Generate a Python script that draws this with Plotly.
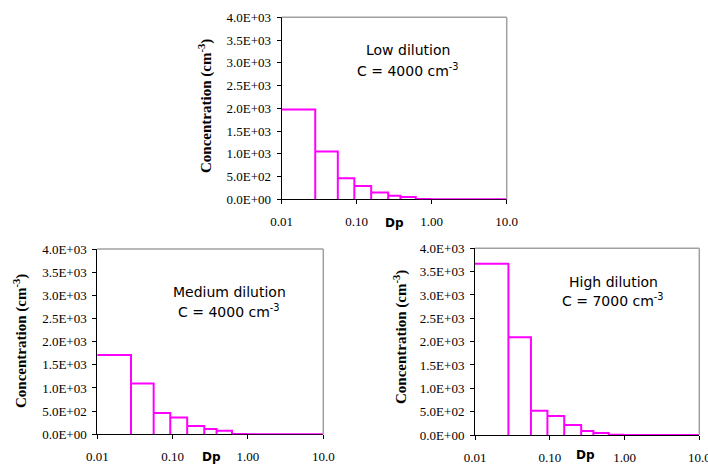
import plotly.graph_objects as go

W, H = 708, 464

# ELPI-like bin edges (um)
edges = [0.007, 0.028, 0.056, 0.093, 0.156, 0.263, 0.383, 0.614, 0.954, 1.61, 2.48, 3.97, 6.58, 10.0]

low_vals = [1975, 1048, 462, 293, 147, 80, 51, 4, 2, 1, 1, 1, 1]
medium_vals = [1712, 1094, 460, 360, 180, 115, 79, 4, 2, 1, 1, 1, 1]
high_vals = [3671, 2093, 521, 407, 214, 86, 43, 4, 2, 1, 1, 1, 1]

y_tickvals = [0, 500, 1000, 1500, 2000, 2500, 3000, 3500, 4000]
y_ticktext = ["0.0E+00", "5.0E+02", "1.0E+03", "1.5E+03", "2.0E+03",
              "2.5E+03", "3.0E+03", "3.5E+03", "4.0E+03"]
x_tickvals = [0.01, 0.1, 1, 10]
x_ticktext = ["0.01", "0.10", "1.00", "10.0"]

panels = [
    dict(vals=low_vals, name="Low dilution", conc="4000",
         px=(281.7, 506.7), py=(17.3, 199.3),
         title_xy=(205, 106), dp_xy=(394, 223), txt_xy=(408, 50, 70)),
    dict(vals=medium_vals, name="Medium dilution", conc="4000",
         px=(97.3, 323.3), py=(249, 434.3),
         title_xy=(20, 341), dp_xy=(211, 457), txt_xy=(229, 292, 311)),
    dict(vals=high_vals, name="High dilution", conc="7000",
         px=(475, 699.3), py=(248.3, 435),
         title_xy=(400, 337), dp_xy=(585, 455), txt_xy=(613, 282, 300)),
]

fig = go.Figure()
annotations = []
shapes = []
tick_font = dict(family="Liberation Serif", size=13, color="black")

for i, p in enumerate(panels):
    n = "" if i == 0 else str(i + 1)
    xs, ys = [], []
    for k, v in enumerate(p["vals"]):
        x0, x1 = edges[k], edges[k + 1]
        xs += [x0, x0, x1, x1]
        ys += [0, v, v, 0]
    fig.add_trace(go.Scatter(x=xs, y=ys, mode="lines",
                             line=dict(color="#FF00FF", width=2),
                             xaxis="x" + n, yaxis="y" + n,
                             showlegend=False, hoverinfo="skip"))
    xd = [p["px"][0] / W, p["px"][1] / W]
    yd = [1 - p["py"][1] / H, 1 - p["py"][0] / H]
    fig.layout["xaxis" + n] = dict(
        domain=xd, anchor="y" + n, type="log", range=[-2, 1],
        tickvals=x_tickvals, ticktext=x_ticktext, tickfont=tick_font,
        showgrid=False, zeroline=False, showline=True, linecolor="black",
        linewidth=1, ticks="outside", ticklen=4, tickcolor="black",
        ticklabelstandoff=6, layer="below traces", automargin=False,
        ticklabeloverflow="allow")
    fig.layout["yaxis" + n] = dict(
        domain=yd, anchor="x" + n, range=[0, 4000],
        tickvals=y_tickvals, ticktext=y_ticktext, tickfont=tick_font,
        showgrid=False, zeroline=False, showline=True, linecolor="black",
        linewidth=1, ticks="outside", ticklen=4, tickcolor="black",
        ticklabelstandoff=3, layer="below traces", automargin=False)
    # gray top & right border
    shapes.append(dict(type="line", xref="x" + n + " domain", yref="y" + n + " domain",
                       x0=0, x1=1, y0=1, y1=1, line=dict(color="#A0A0A0", width=1.5)))
    shapes.append(dict(type="line", xref="x" + n + " domain", yref="y" + n + " domain",
                       x0=1, x1=1, y0=0, y1=1, line=dict(color="#A0A0A0", width=1.5)))
    tx, ty = p["title_xy"]
    annotations.append(dict(text="<b>Concentration (cm<sup>-3</sup>)</b>", textangle=-90,
                            x=tx / W, y=1 - ty / H, xref="paper", yref="paper",
                            showarrow=False, xanchor="center", yanchor="middle",
                            font=dict(family="Liberation Serif", size=15, color="black")))
    dx, dy = p["dp_xy"]
    annotations.append(dict(text="<b>Dp</b>", x=dx / W, y=1 - dy / H,
                            xref="paper", yref="paper", showarrow=False,
                            xanchor="center", yanchor="middle",
                            font=dict(family="DejaVu Sans", size=12, color="black")))
    cx, l1, l2 = p["txt_xy"]
    annotations.append(dict(text=p["name"], x=cx / W, y=1 - l1 / H,
                            xref="paper", yref="paper", showarrow=False,
                            xanchor="center", yanchor="middle",
                            font=dict(family="DejaVu Sans", size=14, color="black")))
    annotations.append(dict(text="C = " + p["conc"] + " cm<sup>-3</sup>", x=cx / W, y=1 - l2 / H,
                            xref="paper", yref="paper", showarrow=False,
                            xanchor="center", yanchor="middle",
                            font=dict(family="DejaVu Sans", size=14, color="black")))

fig.update_layout(width=W, height=H, margin=dict(l=0, r=0, t=0, b=0),
                  paper_bgcolor="white", plot_bgcolor="white",
                  annotations=annotations, shapes=shapes, showlegend=False)

fig.write_html("out.html")
